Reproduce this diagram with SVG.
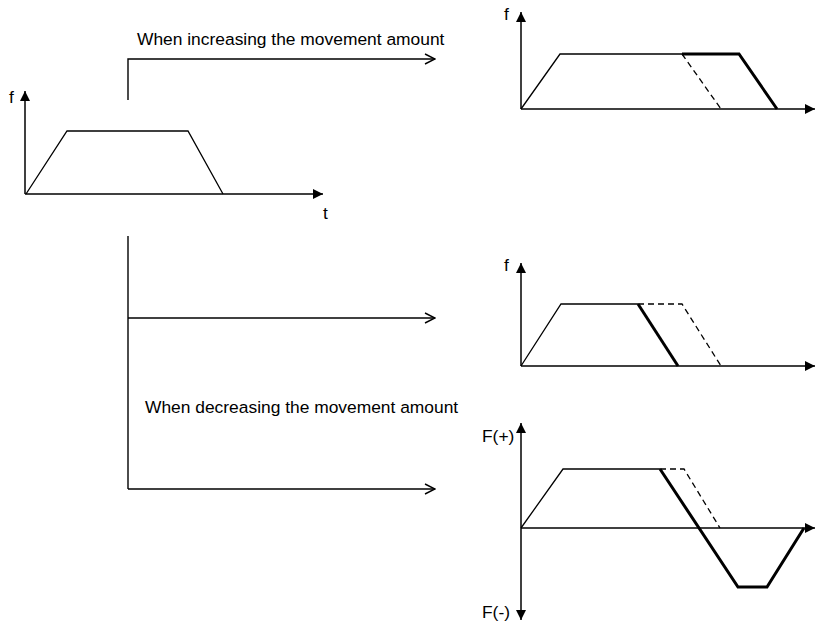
<svg xmlns="http://www.w3.org/2000/svg" width="816" height="623" viewBox="0 0 816 623">
<style>
text{font-family:"Liberation Sans",Arial,sans-serif;font-size:17.4px;fill:#000}
.ax{stroke:#000;stroke-width:1.5;fill:none}
.th{stroke:#000;stroke-width:1.3;fill:none;stroke-linejoin:miter}
.tk{stroke:#000;stroke-width:3;fill:none}
.ds{stroke:#000;stroke-width:1.3;fill:none;stroke-dasharray:6,4}
.cn{stroke:#000;stroke-width:1.4;fill:none}
</style>
<defs>
<marker id="fa" viewBox="0 0 10 10" refX="10" refY="5" markerWidth="10" markerHeight="10" markerUnits="userSpaceOnUse" orient="auto"><path d="M0,0 L10,5 L0,10 Z" fill="#000"/></marker>
<marker id="oa" viewBox="0 0 12 12" refX="11" refY="6" markerWidth="12" markerHeight="12" markerUnits="userSpaceOnUse" orient="auto"><path d="M1,1 L11,6 L1,11" fill="none" stroke="#000" stroke-width="1.4"/></marker>
</defs>
<g id="source-graph">
<line class="ax" x1="25" y1="194" x2="25" y2="91" marker-end="url(#fa)"/>
<line class="ax" x1="25" y1="194" x2="323" y2="194" marker-end="url(#fa)"/>
<polyline class="th" points="26,194 67,131 188,131 223,194"/>
<text x="9" y="103">f</text>
<text x="323" y="219">t</text>
</g>
<g id="connectors">
<polyline class="cn" points="128,100 128,59 435,59" marker-end="url(#oa)"/>
<line class="cn" x1="128" y1="236" x2="128" y2="489"/>
<line class="cn" x1="128" y1="318" x2="435" y2="318" marker-end="url(#oa)"/>
<line class="cn" x1="128" y1="489" x2="435" y2="489" marker-end="url(#oa)"/>
<text x="137" y="45">When increasing the movement amount</text>
<text x="145" y="413">When decreasing the movement amount</text>
</g>
<g id="increase-graph">
<line class="ax" x1="521" y1="109" x2="521" y2="12" marker-end="url(#fa)"/>
<line class="ax" x1="521" y1="109" x2="815" y2="109" marker-end="url(#fa)"/>
<polyline class="th" points="521,109 560,54 682,54"/>
<polyline class="tk" points="682,54 739,54 777,109"/>
<line class="ds" x1="682" y1="54" x2="721" y2="109"/>
<text x="504" y="20">f</text>
</g>
<g id="decrease-graph">
<line class="ax" x1="521" y1="366" x2="521" y2="263" marker-end="url(#fa)"/>
<line class="ax" x1="521" y1="366" x2="815" y2="366" marker-end="url(#fa)"/>
<polyline class="th" points="521,366 561,304 638,304"/>
<line class="tk" x1="638" y1="304" x2="678" y2="366"/>
<polyline class="ds" points="638,304 682,304 721,366"/>
<text x="504" y="271">f</text>
</g>
<g id="reverse-graph">
<line class="ax" x1="521" y1="528" x2="521" y2="423" marker-end="url(#fa)"/>
<line class="ax" x1="521" y1="528" x2="521" y2="620" marker-end="url(#fa)"/>
<line class="ax" x1="521" y1="528" x2="815" y2="528" marker-end="url(#fa)"/>
<polyline class="th" points="521,528 563,469 660,469"/>
<polyline class="tk" points="660,469 738,587 767,587 804,528"/>
<polyline class="ds" points="660,469 684,469 720,528"/>
<text x="482" y="442">F(+)</text>
<text x="482" y="618">F(-)</text>
</g>
</svg>
